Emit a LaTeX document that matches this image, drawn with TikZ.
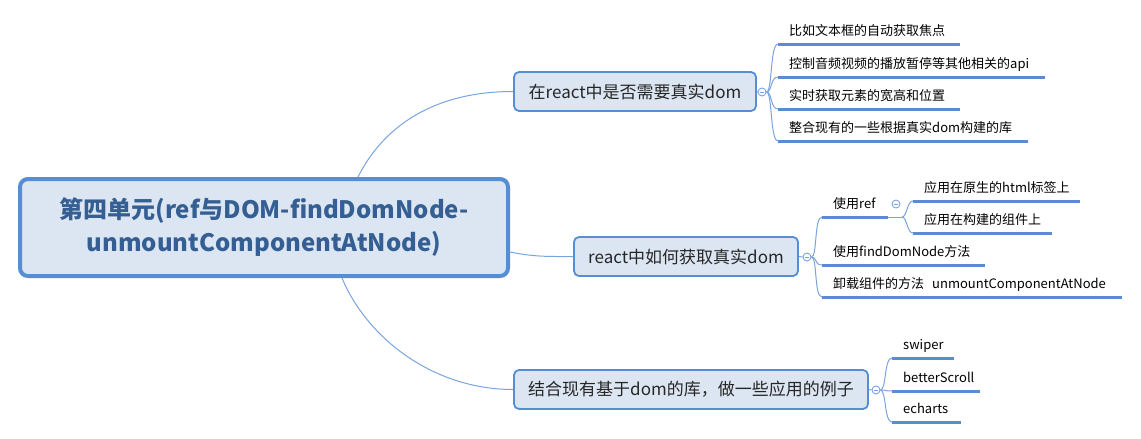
\documentclass[tikz,border=0pt]{standalone}
\usepackage{fontspec}
\newfontfamily\cjk{Noto Sans CJK SC}
\usetikzlibrary{calc}
\definecolor{boxfill}{HTML}{DCE6F2}
\definecolor{boxline}{HTML}{558ED5}
\definecolor{conncol}{HTML}{7AA5DC}
\definecolor{ulcol}{HTML}{5A8CD2}
\definecolor{roottext}{HTML}{355E93}
\definecolor{txt}{HTML}{262626}
\newcommand\leafbox[2]{\makebox[#1pt][l]{\hspace{11pt}#2}}
\begin{document}
\begin{tikzpicture}[x=1pt,y=-1pt,
 rootbox/.style={draw=boxline, fill=boxfill, line width=4pt, rounded corners=8pt, minimum width=488pt, minimum height=97pt, align=center, font=\cjk\bfseries\fontsize{24}{33}\selectfont, text=roottext, inner sep=0pt},
 topic/.style={draw=boxline, fill=boxfill, line width=1.8pt, rounded corners=5pt, minimum height=39pt, font=\cjk\fontsize{17}{20}\selectfont, text=txt, inner sep=0pt},
 leaf/.style={anchor=south west, inner xsep=0pt, inner ysep=5.5pt, text height=10pt, text depth=3pt, font=\cjk\fontsize{13}{15}\selectfont, text=black},
 ul/.style={draw=ulcol, line width=3pt},
 conn/.style={draw=conncol, line width=1pt},
 fold/.style={circle, draw=conncol, fill=white, line width=0.9pt, minimum size=8pt, inner sep=0pt,
   path picture={\draw[draw=conncol, line width=0.8pt] ([xshift=-2.3pt]path picture bounding box.center) -- ([xshift=2.3pt]path picture bounding box.center);}}
]
\fill[white] (0,0) rectangle (1141,439);
\useasboundingbox (0,0) rectangle (1141,439);

% root and main topics
\node[rootbox] (root) at (264,227.5) {第四单元(ref与DOM-findDomNode-\\unmountComponentAtNode)};
\node[topic, minimum width=242pt] (b1) at (635,91.5) {在react中是否需要真实dom};
\node[topic, minimum width=224pt] (b2) at (686,256.5) {react中如何获取真实dom};
\node[topic, minimum width=354pt] (b3) at (691,389.5) {结合现有基于dom的库，做一些应用的例子};

% fold markers
\node[fold] (f1) at (762,92) {};
\node[fold] (f2) at (807,257) {};
\node[fold] (f3) at (876,390) {};

% leaves of branch 1
\node[leaf] (l11) at (778,44) {\leafbox{182}{比如文本框的自动获取焦点}};
\node[leaf] (l12) at (778,77) {\leafbox{267}{控制音频视频的播放暂停等其他相关的api}};
\node[leaf] (l13) at (778,109) {\leafbox{182}{实时获取元素的宽高和位置}};
\node[leaf] (l14) at (778,141) {\leafbox{250}{整合现有的一些根据真实dom构建的库}};

% leaves of branch 2
\node[leaf] (l21) at (822,217) {\leafbox{66}{使用ref}};
\node[fold] (fr) at (896,204) {};
\coordinate (rk) at (902,217);
\node[leaf] (l211) at (913,201) {\leafbox{167}{应用在原生的html标签上}};
\node[leaf] (l212) at (913,233) {\leafbox{139}{应用在构建的组件上}};
\node[leaf] (l22) at (822,265) {\leafbox{163}{使用findDomNode方法}};
\node[leaf] (l23) at (822,297) {\leafbox{300}{卸载组件的方法\hspace{8pt}unmountComponentAtNode}};

% leaves of branch 3
\node[leaf] (l31) at (892,358) {\leafbox{62}{swiper}};
\node[leaf] (l32) at (892,391) {\leafbox{88}{betterScroll}};
\node[leaf] (l33) at (892,422) {\leafbox{69}{echarts}};

% underlines
\foreach \n in {l11,l12,l13,l14,l21,l211,l212,l22,l23,l31,l32,l33}
  \draw[ul] (\n.south west) -- (\n.south east);

% root to topics
\draw[conn] ([xshift=94pt]root.north) .. controls +(25,-50) and +(-80,0) .. (b1.west);
\draw[conn] ([yshift=-24.5pt]root.east) .. controls +(25,5) and +(-25,0) .. (b2.west);
\draw[conn] ([xshift=78pt]root.south) .. controls +(25,60) and +(-80,0) .. (b3.west);

% topics to fold markers
\draw[conn] (b1.east) -- (f1.west);
\draw[conn] (b2.east) -- (f2.west);
\draw[conn] (b3.east) -- (f3.west);

% forks
\foreach \n in {l11,l12,l13,l14}
  \draw[conn] (f1.east) .. controls +(6,0) and +(-8,0) .. (\n.south west);
\foreach \n in {l21,l22,l23}
  \draw[conn] (f2.east) .. controls +(6,0) and +(-8,0) .. (\n.south west);
\foreach \n in {l31,l32,l33}
  \draw[conn] (f3.east) .. controls +(6,0) and +(-8,0) .. (\n.south west);
\draw[conn] (l21.south east) -- (rk);
\foreach \n in {l211,l212}
  \draw[conn] (rk) .. controls +(5,0) and +(-6,0) .. (\n.south west);
\end{tikzpicture}
\end{document}
